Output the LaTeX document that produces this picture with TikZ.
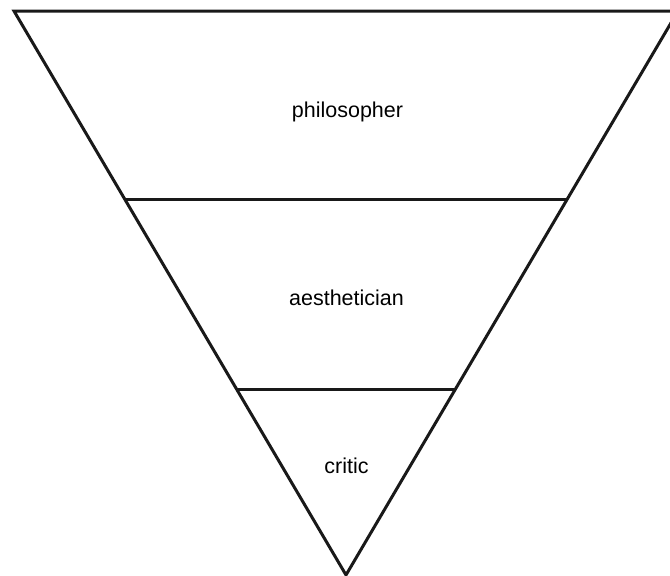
\documentclass[tikz,border=0pt]{standalone}
\usepackage{fontspec}
\setmainfont{Liberation Sans}
\begin{document}
\begin{tikzpicture}[x=1pt,y=-1pt,
  edge/.style={line width=3pt,black!90,line join=miter},
  lbl/.style={anchor=base,inner sep=0pt,font=\fontsize{21.5}{25}\selectfont}]
\useasboundingbox (0,0) rectangle (670,576);
\clip (0,0) rectangle (670,576);
\coordinate (tl) at (14,11);
\coordinate (tr) at (678,11);
\coordinate (ap) at (346,575);
\coordinate (l1) at (125,199);
\coordinate (r1) at (567,199);
\coordinate (l2) at (237,389);
\coordinate (r2) at (455,389);
\draw[edge] (tl) -- (tr) -- (ap) -- cycle;
\draw[edge] (l1) -- (r1);
\draw[edge] (l2) -- (r2);
\node[lbl] (philosopher) at (347.5,117) {philosopher};
\node[lbl] (aesthetician) at (346.5,305) {aesthetician};
\node[lbl] (critic) at (346.5,473) {critic};
\end{tikzpicture}
\end{document}
